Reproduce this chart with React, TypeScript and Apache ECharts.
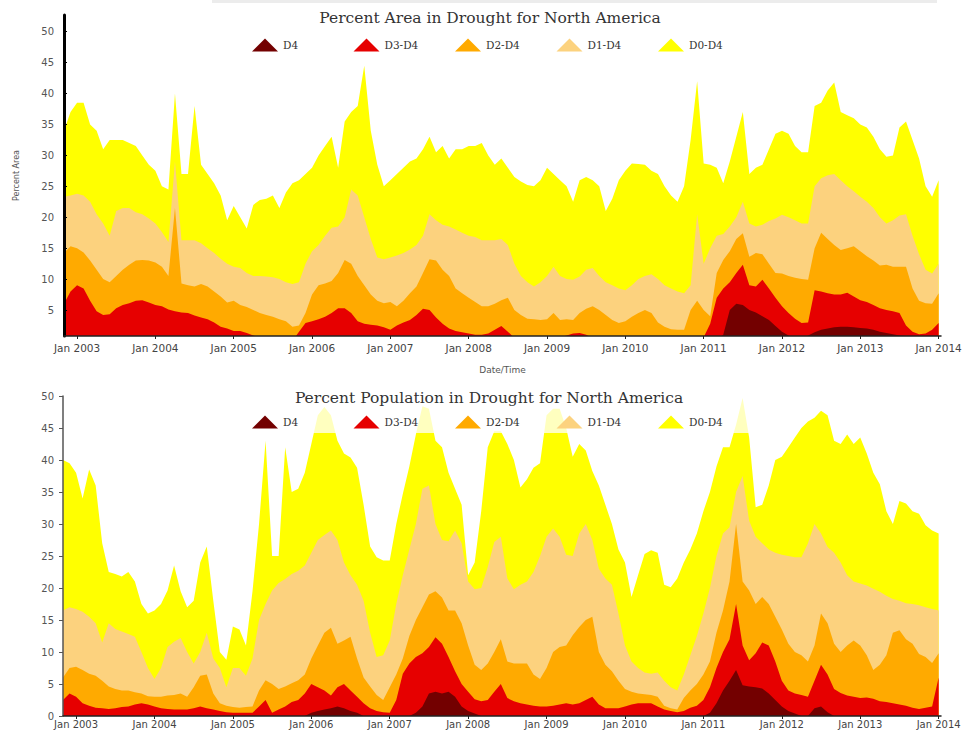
import React, { useEffect, useRef } from 'react';
import * as echarts from 'echarts';

// Monthly readings, first point = November 2002, last = January 2014
const START_YEAR = 2002;
const START_MONTH = 11;
const YEAR_TICKS = [2003, 2004, 2005, 2006, 2007, 2008, 2009, 2010, 2011, 2012, 2013, 2014];
const TOP_Y_TICKS = [5, 10, 15, 20, 25, 30, 35, 40, 45, 50];
const LEGEND_NAMES = ['D4', 'D3-D4', 'D2-D4', 'D1-D4', 'D0-D4'];
const TOP_TITLE = 'Percent Area in Drought for North America';
const BOTTOM_TITLE = 'Percent Population in Drought for North America';

// ---- Percent Area ----
const TOP_D0 = [
  34, 37, 38.5, 38.5, 35, 34, 31, 32.5, 32.5, 32.5,
  32, 31.5, 30, 28.5, 27.5, 25, 24.5, 40, 27, 27,
  38, 28.5, 27, 25.5, 23.5, 19.5, 21.8, 20, 18.2, 22,
  22.8, 23, 23.5, 21.5, 24, 25.5, 26, 27, 28, 30,
  31.5, 33, 28, 35.5, 37, 38, 44.5, 34, 28.5, 25,
  26, 27, 28, 29, 29.5, 31, 33, 30.5, 31.5, 29.5,
  31, 31, 31.5, 31.5, 32, 30, 28.5, 29.5, 28, 26.5,
  25.8, 25.2, 25, 26, 28, 27, 26, 25, 22.5, 26,
  26.5, 26, 25, 21, 23, 26, 27.5, 28.7, 28.6, 28.5,
  27.5, 27, 25, 23.5, 22.5, 25, 32.5, 42, 28.7, 28.5,
  28, 25.5, 29, 33, 37, 27, 28, 28.5, 31, 33.5,
  34, 33.5, 31.5, 30.5, 30.5, 38, 38.5, 40.5, 41.8, 37,
  36.5, 36, 35, 34.5, 33, 31, 29.8, 30, 34.5, 35.5,
  32.5, 29.5, 25, 23.3, 26,
];
const TOP_D1 = [
  23.3, 23.5, 23.8, 23.5, 22.5, 20.5, 19, 17, 21, 21.5,
  21.5, 20.8, 20.5, 19.8, 19, 17.6, 16, 29, 16.3, 16.3,
  16.3, 15.8, 15, 14.2, 13.3, 12.5, 12, 11.8, 11, 10.5,
  10.5, 10.4, 10.3, 10, 9.5, 9.2, 9.5, 12.5, 14.5, 15.5,
  17, 18.3, 18.5, 20, 24.5, 23.5, 20, 16.5, 13.5, 13.2,
  13.5, 13.8, 14.2, 14.8, 15.5, 17, 20.5, 19.5, 18.8, 18.5,
  18, 17.5, 17, 16.8, 16.3, 16.3, 16.3, 16.5, 15.5, 12.5,
  10.5, 9.5, 8.8, 9.5, 10.5, 12, 10.5, 10, 9.9, 10.4,
  11.5, 11.8, 10.5, 9.5, 9, 8.5, 8.2, 9, 10, 10.5,
  10.8, 10, 9, 8.5, 8, 7.7, 9, 20.5, 12.5, 15,
  17, 17.3, 18.5, 20, 22.5, 19, 18.5, 18.8, 19.4, 19.8,
  20.4, 20, 19.5, 19, 19, 25, 26.3, 26.8, 27, 26,
  25, 24.2, 23.3, 22.5, 21.5, 20, 19, 19.5, 20.3, 20.5,
  17, 14, 11.5, 10.9, 12.5,
];
const TOP_D2 = [
  14.2, 15.3, 15, 14.3, 13, 11.5, 10, 9.5, 10.5, 11.5,
  12.3, 13, 13.1, 13, 12.7, 12, 10.5, 21.5, 9.3, 9,
  8.8, 9.2, 8.8, 8, 7.2, 6.2, 6.5, 5.8, 5.5, 5,
  4.5, 4.2, 3.9, 3.5, 3.2, 2.3, 2.5, 4.5, 7.5, 9,
  9.3, 9.7, 11, 13.1, 12.5, 10.5, 9, 7.5, 6.5, 6.1,
  6.3, 5.6, 6.5, 7.7, 8.8, 11, 13.2, 13, 11.5, 10.5,
  8.5, 7.7, 7, 6.3, 5.6, 5.6, 6, 6.6, 7, 5,
  4.2, 3.6, 3.5, 3.4, 3.5, 4.5, 3.4, 3.5, 3.4, 4.5,
  5.2, 5.6, 5, 4.2, 3.4, 2.9, 3.2, 3.9, 4.5, 5,
  4.5, 3, 2.3, 1.9, 1.8, 1.8, 5, 6.5, 5, 4,
  11, 13.1, 14.5, 16.5, 17.4, 13.6, 14.2, 14, 12.5, 11,
  10.9, 10.5, 10.2, 10, 9.9, 15, 17.5, 16.5, 15.5, 14.7,
  15, 15.3, 14.5, 13.7, 13, 12.2, 12.3, 12, 12, 12,
  8.5, 6.5, 6.1, 6, 7.7,
];
const TOP_D3 = [
  6, 8, 9, 8.5, 6.5, 4.8, 4.2, 4.3, 5.3, 5.8,
  6.1, 6.5, 6.6, 6.2, 5.8, 5.6, 5.1, 4.8, 4.6, 4.5,
  4.1, 3.8, 3.5, 3, 2.3, 2, 1.6, 1.6, 1.3, 0.9,
  0.5, 0, 0, 0, 0, 0, 1.5, 2.9, 3.2, 3.5,
  3.9, 4.5, 5.3, 5.3, 4.5, 3.2, 2.8, 2.6, 2.5, 2.2,
  1.8, 2.5, 3, 3.4, 4.2, 5.2, 5, 3.8, 2.8, 2,
  1.6, 1.4, 1.2, 1, 1, 1.2, 1.8, 2.4, 1.5, 0.5,
  0, 0, 0, 0, 0, 0, 0.5, 0.9, 1.2, 1.3,
  1, 0.5, 0, 0, 0, 0, 0, 0.8, 0.8, 0.6,
  0, 0, 0, 0, 0, 0, 0, 0.8, 0.6, 2.8,
  7, 8.5, 9.5, 11, 12.3, 9, 8.8, 9.9, 8.5, 7,
  5.6, 4.5, 3.6, 2.9, 3, 8.2, 8, 7.7, 7.5, 7.5,
  7.8, 7.2, 6.6, 6.3, 5.8, 5.3, 5, 4.8, 4.5, 2.5,
  1.5, 1.1, 1.2, 1.8, 2.9,
];
const TOP_D4 = [
  0, 0, 0, 0, 0, 0, 0, 0, 0, 0,
  0, 0, 0, 0, 0, 0, 0, 0, 0, 0,
  0, 0, 0, 0, 0, 0, 0, 0, 0, 0,
  0, 0, 0, 0, 0, 0, 0, 0, 0, 0,
  0, 0, 0, 0, 0, 0, 0, 0, 0, 0,
  0, 0, 0, 0, 0, 0, 0, 0, 0, 0,
  0, 0, 0, 0, 0, 0, 0, 0, 0, 0,
  0, 0, 0, 0, 0, 0, 0, 0, 0, 0,
  0, 0, 0, 0, 0, 0, 0, 0, 0, 0,
  0, 0, 0, 0, 0, 0, 0, 0, 0, 0,
  0, 1, 5, 6, 5.8, 5, 4.6, 4, 3.4, 2.4,
  1.5, 0.9, 0, 0, 0.9, 1.4, 1.8, 2, 2.2, 2.3,
  2.3, 2.2, 2.1, 2, 1.8, 1.5, 1.3, 1.1, 0.9, 0.8,
  0, 0, 0, 0, 0,
];

// ---- Percent Population ----
const BOT_D0 = [
  40, 39.5, 38, 34, 38.5, 36, 27, 22.5, 22.2, 21.8,
  22.5, 21, 17.5, 16, 16.5, 17.5, 19.6, 23.5, 19.5, 17,
  18, 24, 26.5, 18, 10, 8.8, 14, 13.5, 11, 19.5,
  30, 43, 25, 25, 42, 35, 35.5, 38, 42.5, 47,
  48.3, 47, 43, 41, 40.4, 38.8, 33, 26.5, 24.8, 24.3,
  24.3, 30, 34.7, 39, 44, 48.4, 48, 43, 42, 38,
  35.5, 33, 22, 24, 32, 42, 44.5, 44.5, 42.5, 40,
  35.7, 37, 38.8, 39.5, 47, 48, 48, 45, 40.5, 42.5,
  41.5, 38.3, 36, 33, 30, 26, 24, 18.6, 22, 25.3,
  25.9, 25.5, 20.5, 20.1, 21.5, 24, 26, 28.5, 32, 35,
  39, 42, 42, 45.5, 49.7, 43.5, 32.6, 33, 36, 40,
  40.5, 42, 43.5, 45, 46, 46.6, 47.7, 47, 43, 42.5,
  44, 42.5, 43.5, 41, 38, 36.2, 32, 30, 33.6, 33.2,
  32, 31.6, 29.8, 29, 28.5,
];
const BOT_D1 = [
  16.5, 17, 16.7, 16.3, 15.5, 14.5, 11.5, 14.5, 13.6, 13.2,
  12.8, 12.4, 10, 7.5, 5.8, 7.5, 10.8, 11.6, 12.2, 10,
  8.2, 10, 13, 9, 7.5, 4.5, 7.5, 7.5, 6.3, 9,
  15, 17.5, 19.6, 20.8, 21.4, 22.2, 22.7, 23.5, 25.5, 27.5,
  28.3, 29, 27.5, 24, 22, 20.5, 18, 13, 9.2, 9.5,
  11.8, 17.5, 22, 26, 30, 35.5, 36, 30, 27.5, 27.3,
  29, 27, 21, 19.8, 20, 23.3, 27.2, 28, 21.5, 19.8,
  20.5, 21, 22.5, 25, 28, 29.3, 28, 25.2, 25, 28.5,
  30, 27.5, 23, 21.5, 20.5, 16, 11, 8.5, 7.5, 6.8,
  6.6, 6.8, 5.5, 4.5, 4, 6.5, 9.5, 12.5, 16, 20,
  25, 28.5, 29.5, 35, 37.5, 30.5, 28, 27, 26, 25.5,
  25.2, 25, 24.8, 24.8, 27, 30, 28.5, 26.4, 25.5, 24,
  22, 21, 20.7, 20.4, 19.9, 19.4, 18.8, 18.3, 18, 17.6,
  17.5, 17.3, 17, 16.7, 16.5,
];
const BOT_D2 = [
  6, 7.5, 7.7, 7.2, 6.6, 6.3, 5.5, 4.6, 4.2, 4,
  4, 3.7, 3.5, 3.1, 3, 3, 3.2, 3.3, 3.5, 3,
  4.5, 6.3, 6.5, 3.5, 2, 1.6, 1.4, 1.3, 1.4, 1.5,
  4, 5.6, 5, 4.2, 4.6, 5.1, 5.6, 6.5, 9, 11,
  13, 13.8, 11.3, 11.8, 12.4, 9, 6, 4.6, 3.3, 2.5,
  4.5, 6.5, 9, 12.5, 15, 17, 19, 19.5, 18.5, 16.5,
  16.5, 14.5, 11, 8, 7.2, 8.2, 10, 12, 8.5, 8.2,
  8.2, 8.2, 6.5, 5.8, 7.5, 10, 10.8, 11, 12.6, 13.9,
  15, 15.5, 10, 8, 7, 5.5, 4.2, 3.8, 3.5, 3.4,
  3.3, 3, 1.6, 1.2, 1, 2.8, 4, 5, 6.5, 8.5,
  13, 16.5, 21, 30, 21, 19.6, 17.5, 18.6, 17.5, 15.5,
  13.5, 11.3, 10, 9.5, 8.5, 11, 16, 14.5, 11.3, 10,
  11, 11.8, 11, 9.5, 7.2, 8, 9.5, 13, 13.4, 12,
  11.3, 9.7, 9.2, 8.3, 9.8,
];
const BOT_D3 = [
  2.5, 3.5, 3, 2, 1.6, 1.3, 1.2, 1.1, 1.2, 1.4,
  1.5, 1.8, 2, 1.8, 1.5, 1.2, 1.1, 1, 1, 1,
  1.2, 1.5, 1.2, 1, 0.8, 0.6, 0.5, 0.5, 0.5, 0.5,
  1.5, 2.5, 0.5, 1, 1.5, 2.2, 2.5, 3.5, 5, 4.5,
  4, 3.2, 4.5, 5, 4, 3, 2, 1.2, 0.8, 0.6,
  0.5, 2.5, 6.6, 8.2, 9.2, 9.8, 10.8, 12.3, 11.3, 9.2,
  7, 5, 3.8, 2.6, 2.3, 2.5, 3.8, 5, 2.8, 2.3,
  2, 1.8, 1.6, 1.5, 1.5, 1.6, 1.8, 2, 1.8, 2,
  2.5, 3, 1.8, 1.2, 1.2, 1.2, 1.5, 1.8, 2, 2,
  2, 1.5, 1, 0.8, 0.6, 0.8, 1.3, 1.6, 2.5, 4.5,
  7.5, 10, 12, 17.5, 11, 8.7, 9.8, 11.5, 11, 8.5,
  5.5, 4, 3.5, 3.3, 3, 5.5, 8, 6.5, 4.2, 3.6,
  3.2, 3, 2.8, 2.9, 2.7, 2.3, 2.2, 2, 1.8, 1.6,
  1.3, 1.1, 1.3, 1.5, 6,
];
const BOT_D4 = [
  0, 0, 0, 0, 0, 0, 0, 0, 0, 0,
  0, 0, 0, 0, 0, 0, 0, 0, 0, 0,
  0, 0, 0, 0, 0, 0, 0, 0, 0, 0,
  0, 0, 0, 0, 0, 0, 0, 0, 0.5, 0.8,
  1, 1.2, 1.5, 1.2, 0.8, 0.5, 0, 0, 0, 0,
  0, 0, 0, 0, 0.5, 1.5, 3.5, 3.8, 3.5, 3.8,
  3, 1.5, 0.8, 0.4, 0, 0, 0, 0, 0, 0,
  0, 0, 0, 0, 0, 0, 0, 0, 0, 0,
  0, 0, 0, 0, 0, 0, 0, 0, 0, 0,
  0, 0, 0, 0, 0, 0, 0, 0, 0, 0.5,
  2, 4, 5.5, 7.2, 4.8, 4.6, 4.5, 4.3, 3.5, 2.5,
  1.5, 0.8, 0.4, 0, 0, 1.2, 1.5, 0.6, 0, 0,
  0, 0, 0, 0, 0, 0, 0, 0, 0, 0,
  0, 0, 0, 0, 0,
];

const COLORS: Record<string, string> = {
  'D0-D4': '#ffff00',
  'D1-D4': '#fcd27e',
  'D2-D4': '#ffaa00',
  'D3-D4': '#e60000',
  'D4': '#730000',
};

const TOP_LAYERS: [string, number[]][] = [
  ['D0-D4', TOP_D0], ['D1-D4', TOP_D1], ['D2-D4', TOP_D2], ['D3-D4', TOP_D3], ['D4', TOP_D4],
];
const BOT_LAYERS: [string, number[]][] = [
  ['D0-D4', BOT_D0], ['D1-D4', BOT_D1], ['D2-D4', BOT_D2], ['D3-D4', BOT_D3], ['D4', BOT_D4],
];

const X_MIN = START_YEAR + (START_MONTH - 1) / 12;
const X_MAX = 2014.03;

function toPairs(values: number[]) {
  return values.map((v, i) => [START_YEAR + (START_MONTH - 1 + i) / 12, v]);
}

function buildSeries(layers: [string, number[]][], idx: number) {
  return layers.map(([name, values]) => ({
    type: 'line',
    name,
    xAxisIndex: idx,
    yAxisIndex: idx,
    data: toPairs(values),
    symbol: 'none',
    showSymbol: false,
    silent: true,
    clip: true,
    z: 2,
    lineStyle: { width: 0, color: COLORS[name] },
    itemStyle: { color: COLORS[name] },
    areaStyle: { color: COLORS[name], opacity: 1 },
  }));
}

const SANS = 'DejaVu Sans';
const SERIF = 'DejaVu Serif';

function xAxisFor(gridIndex: number, name: string, labelMargin: number, labelSize: number) {
  return {
    type: 'value',
    gridIndex,
    z: 5,
    min: X_MIN,
    max: X_MAX,
    name,
    nameLocation: 'middle',
    nameGap: 29,
    nameTextStyle: { fontFamily: SANS, fontSize: 9, color: '#555' },
    axisLine: { show: true, onZero: false, lineStyle: { color: '#222', width: 1.5 } },
    axisTick: { show: true, customValues: YEAR_TICKS, length: 3, lineStyle: { color: '#222' } },
    axisLabel: {
      customValues: YEAR_TICKS,
      formatter: (v: number) => 'Jan ' + Math.round(v),
      fontFamily: SANS,
      fontSize: labelSize,
      color: '#444',
      margin: labelMargin,
    },
    splitLine: { show: false },
  };
}

// one single-item legend per entry, so that the entries sit at an even pitch
function legendsFor(top: number) {
  return LEGEND_NAMES.map((name, i) => ({
    data: [name],
    left: 252 + i * 101.5,
    top,
    padding: 0,
    icon: 'triangle',
    itemWidth: 26,
    itemHeight: 13,
    selectedMode: false,
    z: 10,
    itemStyle: { borderWidth: 0 },
    textStyle: { fontFamily: SERIF, fontSize: 10.5, color: '#333' },
  }));
}

const option = {
  animation: false,
  backgroundColor: '#ffffff',
  grid: [
    { left: 64, right: 23, top: 15, height: 321, containLabel: false, outerBoundsMode: 'none' },
    { left: 63, right: 23, top: 396, height: 320, containLabel: false, outerBoundsMode: 'none' },
  ],
  xAxis: [xAxisFor(0, 'Date/Time', 6, 10.5), xAxisFor(1, '', 3, 10)],
  yAxis: [
    {
      type: 'value',
      gridIndex: 0,
      z: 5,
      min: 0.8,
      max: 52.7,
      name: 'Percent Area',
      nameLocation: 'middle',
      nameGap: 44,
      nameRotate: 90,
      nameTextStyle: { fontFamily: SANS, fontSize: 8, color: '#555' },
      axisLine: { show: true, lineStyle: { color: '#000', width: 3 } },
      axisTick: { show: true, inside: true, length: 3, customValues: TOP_Y_TICKS, lineStyle: { color: '#000' } },
      axisLabel: { customValues: TOP_Y_TICKS, fontFamily: SANS, fontSize: 10, color: '#555', margin: 10 },
      splitLine: { show: false },
    },
    {
      type: 'value',
      gridIndex: 1,
      z: 5,
      min: 0,
      max: 50,
      interval: 5,
      axisLine: { show: true, lineStyle: { color: '#555', width: 1.5 } },
      axisTick: { show: true, length: 4, lineStyle: { color: '#555' } },
      axisLabel: { fontFamily: SANS, fontSize: 10, color: '#555', margin: 9 },
      splitLine: { show: false },
    },
  ],
  legend: [...legendsFor(38.5), ...legendsFor(415.5)],
  graphic: [
    { type: 'rect', shape: { x: 212, y: 0, width: 725, height: 3 }, style: { fill: '#ececec' }, silent: true },
    {
      type: 'rect',
      z: 8,
      shape: { x: 245, y: 396, width: 510, height: 37 },
      style: { fill: 'rgba(255,255,255,0.75)' },
      silent: true,
    },
    {
      type: 'text',
      x: 490,
      y: 18,
      z: 20,
      style: { text: TOP_TITLE, fill: '#333', font: `normal 15.5px "${SERIF}"`, textAlign: 'center', textVerticalAlign: 'middle' },
      silent: true,
    },
    {
      type: 'text',
      x: 489,
      y: 398,
      z: 20,
      style: { text: BOTTOM_TITLE, fill: '#333', font: `normal 15.5px "${SERIF}"`, textAlign: 'center', textVerticalAlign: 'middle' },
      silent: true,
    },
  ],
  series: [...buildSeries(TOP_LAYERS, 0), ...buildSeries(BOT_LAYERS, 1)],
};

export default function App() {
  const ref = useRef<HTMLDivElement>(null);
  useEffect(() => {
    document.body.style.margin = '0';
    const chart = echarts.init(ref.current!, null, { renderer: 'svg' });
    chart.setOption(option as any);
    return () => chart.dispose();
  }, []);
  return (
    <div
      ref={ref}
      style={{ position: 'absolute', left: 0, top: 0, width: 964, height: 731, overflow: 'hidden' }}
    />
  );
}
